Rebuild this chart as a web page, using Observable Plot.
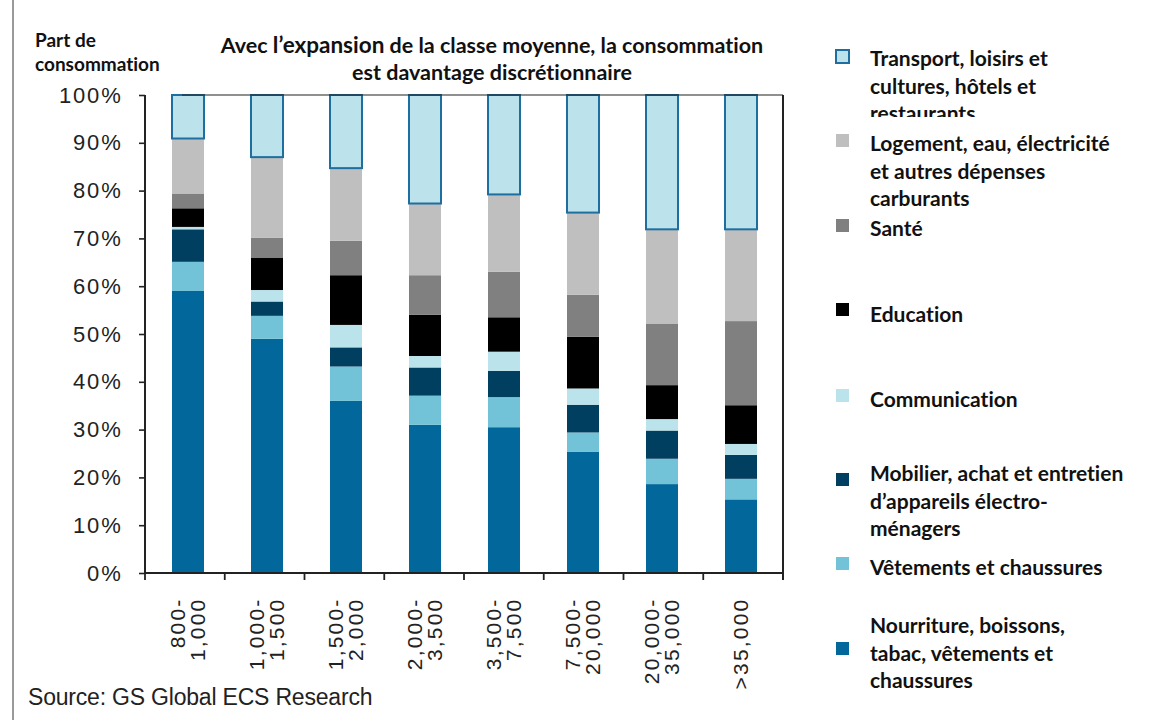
<!DOCTYPE html>
<html>
<head>
<meta charset="utf-8">
<script src="https://cdn.jsdelivr.net/npm/d3@7"></script>
<script src="https://cdn.jsdelivr.net/npm/@observablehq/plot@0.6"></script>
<style>
  html, body { margin: 0; padding: 0; background: #fff; }
  #page { position: relative; width: 1157px; height: 720px; overflow: hidden; background: #fff; }
  #edge { position: absolute; left: 12px; top: 0; width: 1.5px; height: 720px; background: #9a9a9a; }
  #chart { position: absolute; left: 0; top: 0; }
  .bold { font-family: Lato, "Open Sans", sans-serif; font-weight: 700; color: #111; font-variant-ligatures: none; }
  #ylab { position: absolute; left: 35px; top: 28px; font-size: 19px; line-height: 24px; }
  #title { position: absolute; left: 142px; width: 700px; top: 31px; text-align: center; font-size: 21.5px; line-height: 27px; white-space: nowrap; }
  #title .big { font-size: 22.5px; }
  #source { position: absolute; left: 28px; top: 684px; font-family: "Liberation Sans", Arial, sans-serif; font-size: 23px; letter-spacing: -0.2px; color: #222; white-space: nowrap; }
  .leg { position: absolute; left: 870px; font-size: 21px; line-height: 27.5px; white-space: pre; }
  .sw { position: absolute; left: 836px; width: 13px; height: 13px; box-sizing: border-box; }
  svg [aria-label="y-axis tick label"] text { letter-spacing: 1.8px; }
  svg [aria-label="x-axis tick label"] text { letter-spacing: 2.2px; }
</style>
</head>
<body>
<div id="page">
  <div id="edge"></div>
  <div id="chart"></div>
  <div id="ylab" class="bold">Part de<br>consommation</div>
  <div id="title" class="bold">Avec <span class="big">l’expansion</span> de la classe moyenne, la consommation<br>est davantage discrétionnaire</div>
  <div id="legend"></div>
  <div id="source">Source: GS Global ECS Research</div>
</div>
<script>
// ---- data ----
const categories = ["800-\n1,000", "1,000-\n1,500", "1,500-\n2,000", "2,000-\n3,500", "3,500-\n7,500", "7,500-\n20,000", "20,000-\n35,000", ">35,000"];
const seriesNames = [
  "Nourriture, boissons, tabac, vêtements et chaussures",
  "Vêtements et chaussures",
  "Mobilier, achat et entretien d’appareils électro-ménagers",
  "Communication",
  "Education",
  "Santé",
  "Logement, eau, électricité et autres dépenses carburants",
  "Transport, loisirs et cultures, hôtels et restaurants"
];
const nourriture    = [59.0, 49.0, 36.0, 31.0, 30.5, 25.4, 18.6, 15.4];
const vetements     = [ 6.1,  4.8,  7.2,  6.1,  6.3,  4.0,  5.3,  4.3];
const mobilier      = [ 6.8,  3.0,  4.0,  5.9,  5.5,  5.8,  5.9,  5.0];
const communication = [ 0.5,  2.4,  4.7,  2.4,  4.0,  3.4,  2.4,  2.3];
const education     = [ 3.9,  6.7, 10.4,  8.6,  7.2, 10.8,  7.1,  8.1];
const sante         = [ 3.1,  4.2,  7.2,  8.3,  9.5,  8.8, 12.9, 17.6];
const logement      = [11.5, 16.9, 15.2, 15.0, 16.2, 17.2, 19.7, 19.2];
const transport     = [ 9.1, 13.0, 15.3, 22.7, 20.8, 24.6, 28.1, 28.1];
const yTicks = [0, 10, 20, 30, 40, 50, 60, 70, 80, 90, 100];
const legendLines = [
  "Transport, loisirs et\ncultures, hôtels et\nrestaurants",
  "Logement, eau, électricité\net autres dépenses\ncarburants",
  "Santé",
  "Education",
  "Communication",
  "Mobilier, achat et entretien\nd’appareils électro-\nménagers",
  "Vêtements et chaussures",
  "Nourriture, boissons,\ntabac, vêtements et\nchaussures"
];

// ---- styles ----
const seriesColors = ["#02679b", "#72c3d7", "#003f60", "#bbe3eb", "#000000", "#808080", "#bfbfbf", "#bce3eb"];
const transportStroke = "#1e6ea0";
// legend layout (top of swatch, top of text) in page pixels
const legendLayout = [
  {sw: 49, tx: 44}, {sw: 134, tx: 129}, {sw: 219, tx: 214}, {sw: 303, tx: 300},
  {sw: 389, tx: 385}, {sw: 473, tx: 459}, {sw: 557, tx: 553}, {sw: 642, tx: 611}
];

const seriesValues = [nourriture, vetements, mobilier, communication, education, sante, logement, transport];
const table = [];
categories.forEach((c, i) => seriesNames.forEach((s, k) => table.push({cat: c, series: s, value: seriesValues[k][i]})));
const transportName = seriesNames[seriesNames.length - 1];

function frameLines(index, scales, values, dims) {
  const {width, height, marginLeft, marginRight, marginTop, marginBottom} = dims;
  const x0 = marginLeft, x1 = width - marginRight, y0 = marginTop, y1 = height - marginBottom;
  const step = (x1 - x0) / categories.length;
  const g = d3.create("svg:g").attr("stroke", "#222").attr("fill", "none");
  g.append("line").attr("x1", x0).attr("x2", x0).attr("y1", y0).attr("y2", y1).attr("stroke-width", 2);
  g.append("line").attr("x1", x1).attr("x2", x1).attr("y1", y0).attr("y2", y1 + 7).attr("stroke-width", 2);
  g.append("line").attr("x1", x0 + 37).attr("x2", x1).attr("y1", y0).attr("y2", y0).attr("stroke-width", 1.2);
  g.append("line").attr("x1", x0 - 1).attr("x2", x1 + 1).attr("y1", y1).attr("y2", y1).attr("stroke-width", 2);
  d3.range(categories.length).forEach(i => {
    const x = x0 + i * step;
    g.append("line").attr("x1", x).attr("x2", x).attr("y1", y1).attr("y2", y1 + 7).attr("stroke-width", 1.8);
  });
  return g.node();
}

const chart = Plot.plot({
  width: 800,
  height: 700,
  marginLeft: 145,
  marginRight: 17,
  marginTop: 95,
  marginBottom: 127,
  style: {fontFamily: "'Liberation Sans', Arial, sans-serif", fontSize: "21px", color: "#222", background: "transparent", overflow: "visible"},
  x: {domain: categories, paddingInner: 0.6, paddingOuter: 0.3, label: null},
  y: {domain: [0, 100], label: null},
  color: {domain: seriesNames, range: seriesColors},
  opacity: {domain: [0, 1], range: [0, 1]},
  marks: [
    Plot.barY(table, {x: "cat", y: "value", fill: "series", order: seriesNames}),
    Plot.barY(table, {x: "cat", y: "value", z: "series", order: seriesNames, fill: "none",
      stroke: transportStroke, strokeWidth: 2, strokeOpacity: d => d.series === transportName ? 1 : 0}),
    Plot.axisY({ticks: yTicks, tickFormat: d => d + "%", tickSize: 6, tickPadding: 17, fontSize: 22, strokeWidth: 1.6, label: null}),
    Plot.axisX({tickSize: 0, tickPadding: 24, tickRotate: -90, fontSize: 21, lineHeight: 0.95, label: null}),
    frameLines
  ]
});
document.getElementById("chart").appendChild(chart);

// ---- legend ----
const legend = document.getElementById("legend");
legendLines.forEach((txt, i) => {
  const k = seriesNames.length - 1 - i;
  const sw = document.createElement("div");
  sw.className = "sw";
  sw.style.top = legendLayout[i].sw + "px";
  sw.style.background = seriesColors[k];
  if (k === seriesNames.length - 1) { sw.style.border = "2px solid " + transportStroke; sw.style.width = "15px"; sw.style.height = "15px"; sw.style.left = "835px"; }
  legend.appendChild(sw);
  const t = document.createElement("div");
  t.className = "leg bold";
  t.style.top = legendLayout[i].tx + "px";
  t.textContent = txt;
  if (i === 0) { t.style.height = (117 - legendLayout[i].tx) + "px"; t.style.overflow = "hidden"; }
  legend.appendChild(t);
});
</script>
</body>
</html>
